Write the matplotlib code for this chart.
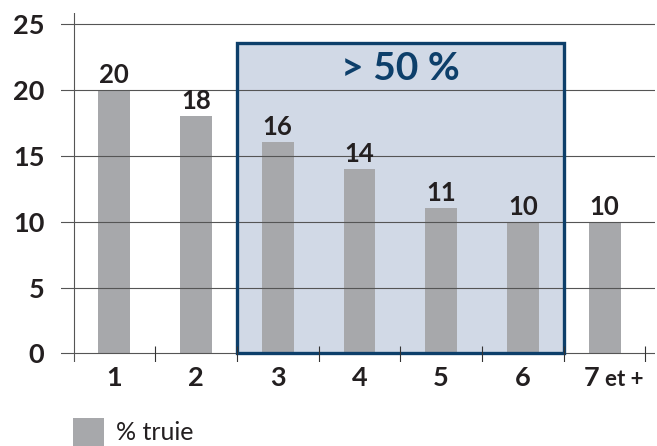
import matplotlib
matplotlib.use("Agg")
import matplotlib.pyplot as plt
from matplotlib.patches import Rectangle
import matplotlib.transforms as mtransforms

categories = ["1", "2", "3", "4", "5", "6", "7"]
values = [20, 18, 16, 14, 11, 10, 10]
value_labels = ["20", "18", "16", "14", "11", "10", "10"]
last_suffix = "et +"
yticks = [0, 5, 10, 15, 20, 25]
box_label = "> 50 %"
legend_label = "% truie"

plt.rcParams['font.family'] = ['Lato', 'DejaVu Sans']

BAR = '#a7a8ab'
DARK = '#231f20'
GRID = '#555555'
NAVY = '#0d3f6a'
FILL = '#d1d9e6'

fig = plt.figure(figsize=(6.57, 4.46), dpi=100)
ax = fig.add_axes([61/657, 1-362/446, 594/657, (362-13)/446])
ax.set_xlim(0.347, 7.617)
ax.set_ylim(-0.645, 25.81)
for s in ax.spines.values():
    s.set_visible(False)

x = list(range(1, len(categories) + 1))

# highlighted box (cats 3-6)
ax.add_patch(Rectangle((2.5, 0), 4, 23.5, facecolor=FILL, edgecolor='none', zorder=1))
ax.bar(x, values, width=0.39, color=BAR, zorder=2)
for yv in yticks:
    ax.axhline(yv, color=GRID, lw=0.8, zorder=3)
ax.add_patch(Rectangle((2.5, 0), 4, 23.5, facecolor='none', edgecolor=NAVY, lw=2.4, zorder=4))
ax.text(4.5, 21.6, box_label, ha='center', va='center', fontsize=28, fontweight='bold', color=NAVY, zorder=5)

# y axis line and category separators
ax.axvline(0.5, color=GRID, lw=0.8, zorder=3)
for b in [1.5, 2.5, 3.5, 4.5, 5.5, 6.5, 7.5]:
    ax.plot([b, b], [-0.645, 0.6], color='#333333', lw=0.8, zorder=5, solid_capstyle='butt')

for xi, v, lab in zip(x, values, value_labels):
    ax.annotate(lab, (xi, v), xytext=(0, 5), textcoords='offset points', ha='center', va='baseline',
                fontsize=18.5, fontweight='bold', color=DARK, zorder=6)

ax.set_yticks(yticks)
ax.set_yticklabels([str(t) for t in yticks], fontsize=19.5, fontweight='bold', color=DARK)
ax.set_xticks(x)
ax.set_xticklabels(categories, fontsize=19.5, fontweight='bold', color=DARK)
ax.tick_params(axis='both', length=0)
ax.tick_params(axis='y', pad=12)
ax.tick_params(axis='x', pad=3)
last = ax.get_xticklabels()[-1]
last.set_transform(last.get_transform() + mtransforms.ScaledTranslation(-13.5/100, 0, fig.dpi_scale_trans))
ax.text(7.0, 0, last_suffix, transform=mtransforms.blended_transform_factory(ax.transData, ax.transAxes)
        + mtransforms.ScaledTranslation(0, -24/100, fig.dpi_scale_trans),
        ha='left', va='baseline', fontsize=16, fontweight='bold', color=DARK)

# legend
fig.add_artist(Rectangle((73/657, 0), 31/657, 28/446, transform=fig.transFigure, facecolor=BAR, edgecolor='none'))
fig.text(116/657, 1-433/446, legend_label, ha='left', va='center', fontsize=18, color=DARK)

fig.savefig('out.png', dpi=100)
